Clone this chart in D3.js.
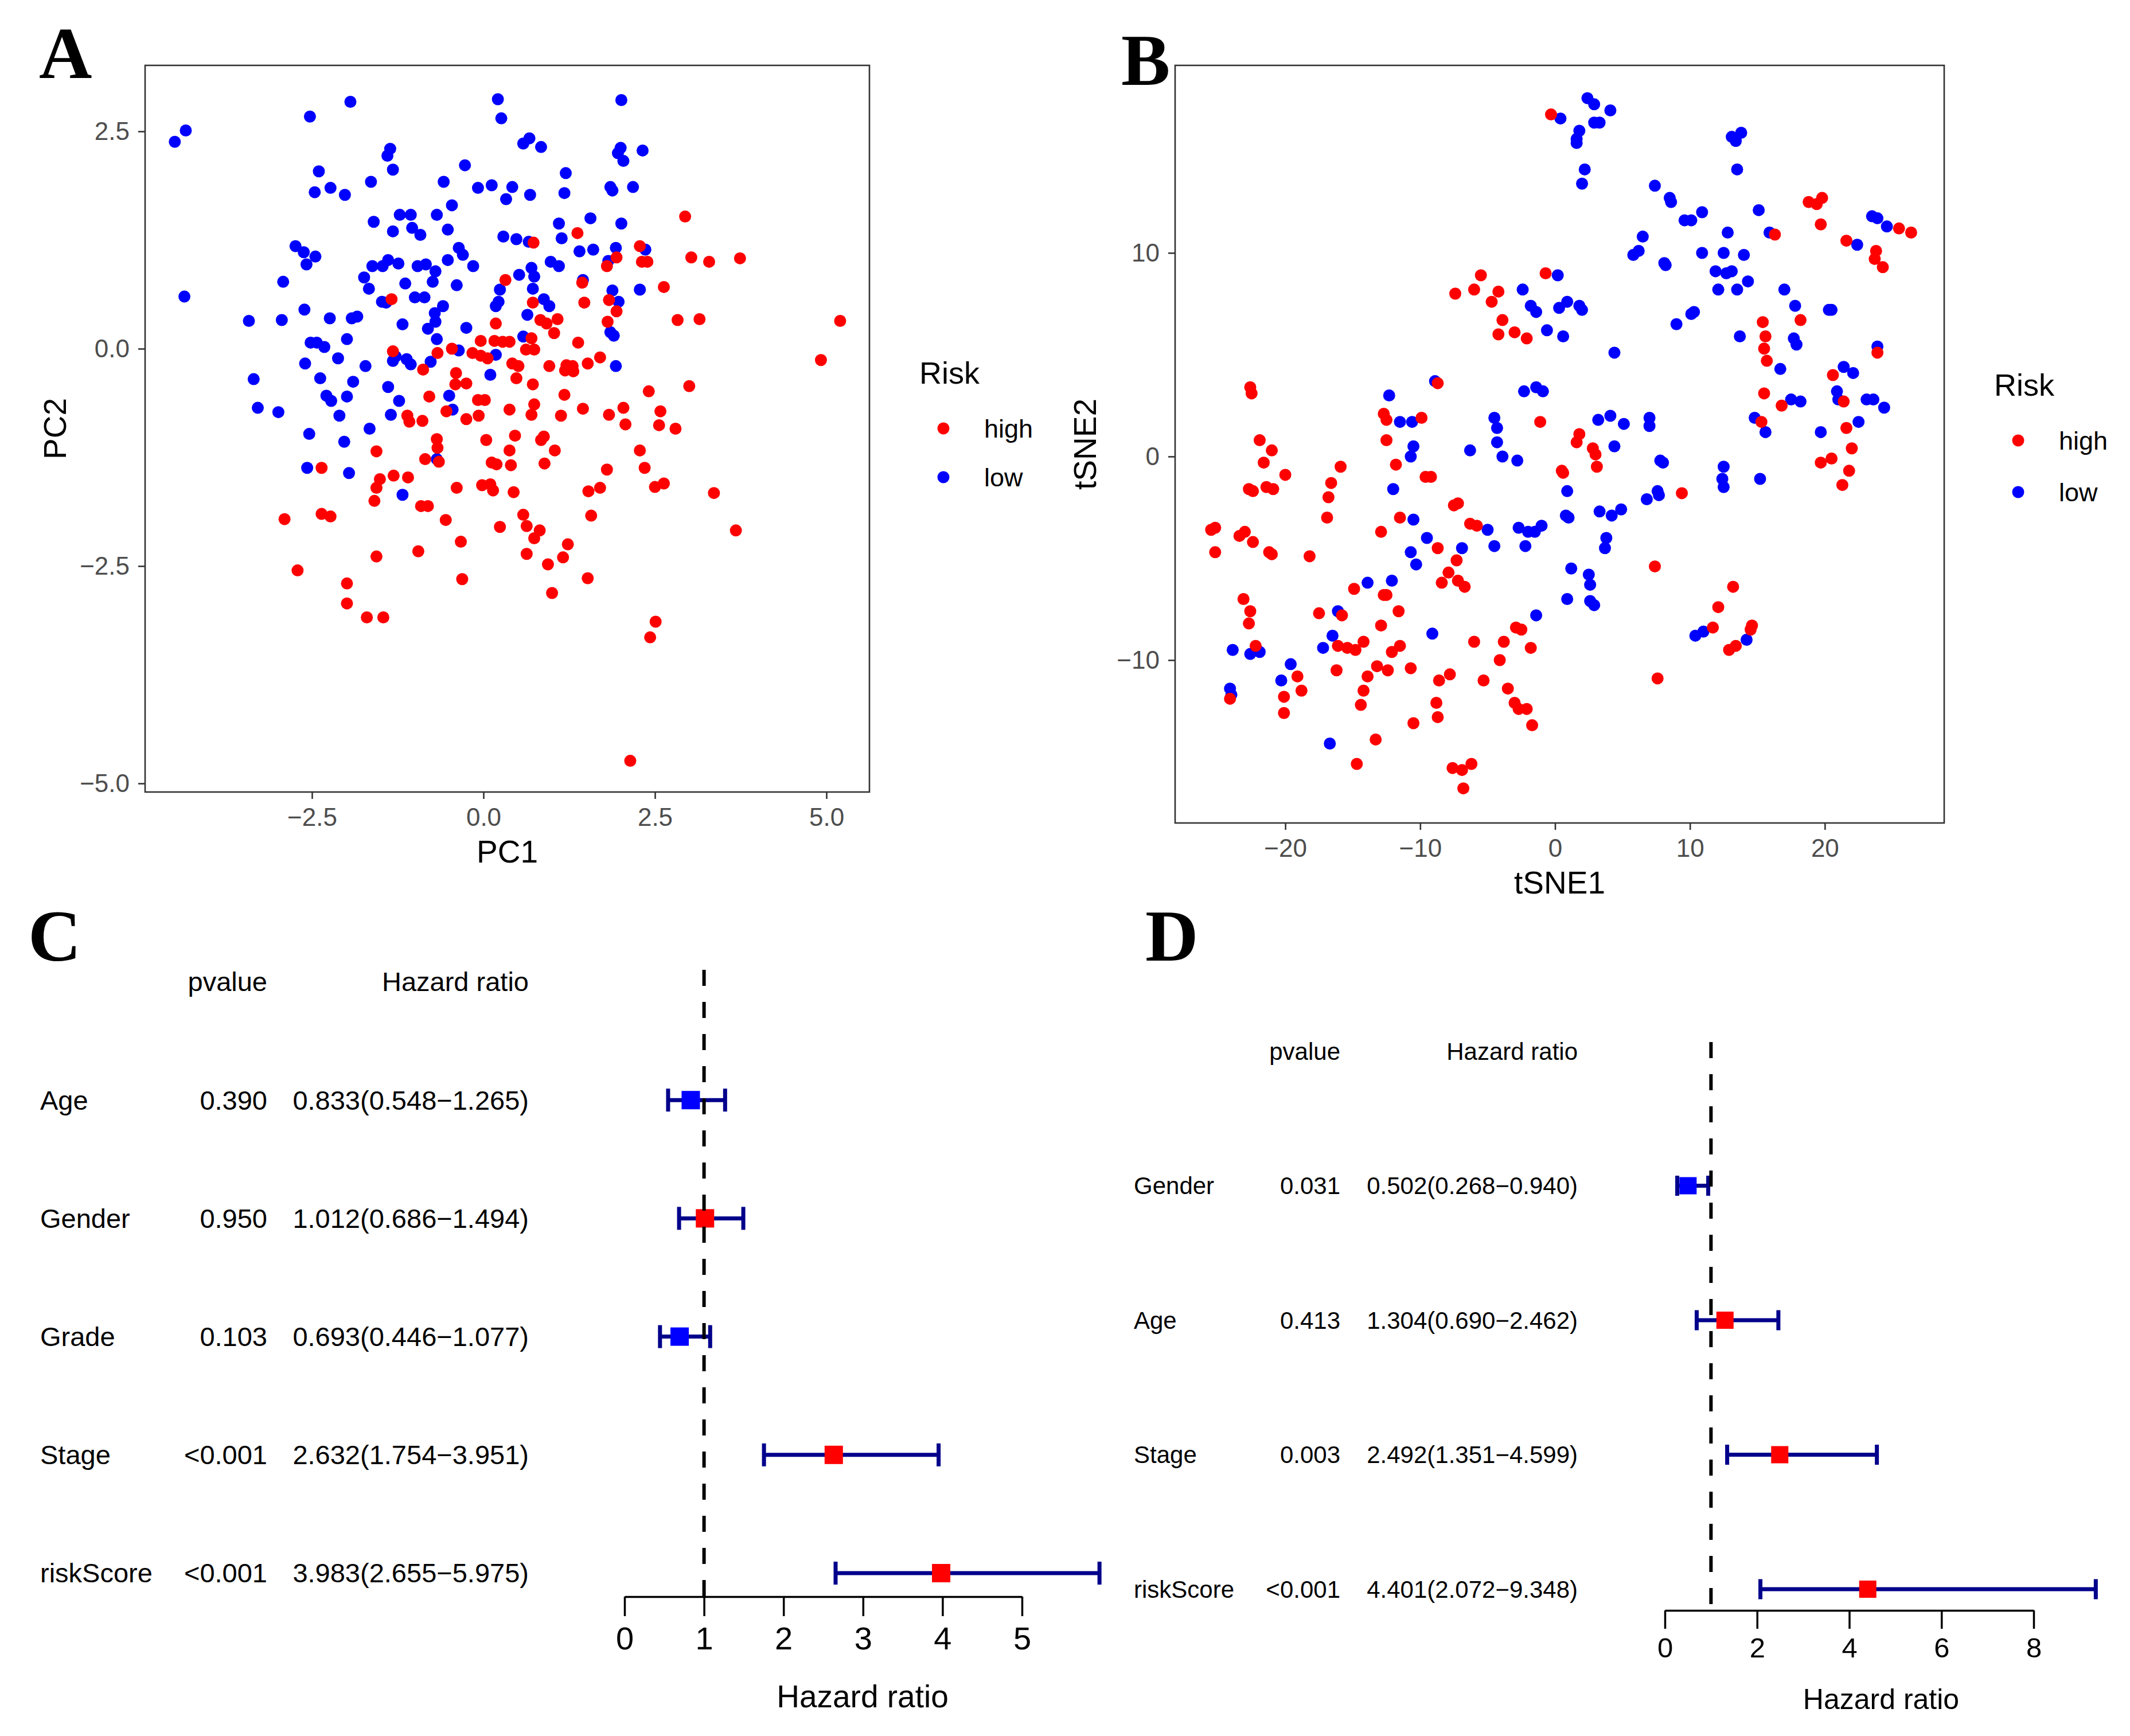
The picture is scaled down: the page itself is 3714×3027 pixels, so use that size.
<!DOCTYPE html>
<html>
<head>
<meta charset="utf-8">
<script src="https://cdn.jsdelivr.net/npm/d3@7"></script>
<style>
  body { margin: 0; background: #fff; }
  text { font-family: "Liberation Sans", Arial, sans-serif; }
</style>
</head>
<body>
<svg id="fig" width="3714" height="3027"></svg>
<script>
// ---- data: PCA (panel A) ----
var pcaLow = [[-4.50,2.38],[-4.34,2.51],[-4.36,0.60],[-2.53,2.67],[-1.94,2.84],[-2.40,2.04],[-2.46,1.80],[-2.23,1.85],[-2.02,1.77],[-1.64,1.92],[-1.36,2.30],[-1.40,2.22],[-1.32,2.06],[-1.60,1.46],[-1.32,1.35],[-1.22,1.54],[-1.06,1.54],[-1.04,1.39],[-0.92,1.31],[-0.68,1.54],[-0.52,1.37],[-0.58,1.92],[-0.46,1.65],[-0.27,2.11],[0.21,2.87],[0.26,2.65],[-0.08,1.85],[0.12,1.88],[0.42,1.86],[0.33,1.72],[0.68,1.77],[0.58,2.36],[0.67,2.42],[0.84,2.32],[1.20,2.02],[1.18,1.79],[2.01,2.86],[2.00,2.31],[1.96,2.25],[2.04,2.16],[2.32,2.28],[1.85,1.86],[1.88,1.82],[2.18,1.86],[1.56,1.50],[2.01,1.44],[1.10,1.44],[1.14,1.27],[0.29,1.29],[0.48,1.26],[0.66,1.23],[-2.74,1.18],[-2.62,1.11],[-2.45,1.06],[-2.58,0.97],[-2.92,0.77],[-2.61,0.45],[-3.42,0.32],[-2.94,0.33],[-2.24,0.35],[-1.92,0.35],[-1.84,0.37],[-1.99,0.11],[-2.52,0.07],[-2.43,0.07],[-2.32,0.02],[-2.12,-0.11],[-2.60,-0.17],[-2.38,-0.34],[-3.35,-0.35],[-3.29,-0.68],[-2.99,-0.73],[-2.29,-0.54],[-2.22,-0.60],[-1.99,-0.55],[-1.90,-0.38],[-1.72,-0.20],[-2.54,-0.98],[-2.10,-0.77],[-2.03,-1.07],[-1.66,-0.92],[-2.57,-1.37],[-1.96,-1.43],[-1.74,0.82],[-1.67,0.69],[-1.62,0.95],[-1.47,0.95],[-1.39,1.02],[-1.24,0.98],[-1.14,0.75],[-1.48,0.54],[-1.42,0.53],[-1.00,0.59],[-0.86,0.59],[-0.96,0.95],[-0.84,0.97],[-0.70,0.89],[-0.74,0.77],[-0.59,0.49],[-0.71,0.41],[-0.70,0.31],[-0.81,0.23],[-1.18,0.28],[-0.68,0.11],[-0.36,1.16],[-0.30,1.08],[-0.52,1.02],[-0.15,0.95],[-0.39,0.73],[-0.25,0.24],[-1.28,-0.09],[-1.12,-0.12],[-1.06,-0.18],[-1.32,-0.14],[-0.77,-0.15],[-1.39,-0.44],[-1.23,-0.60],[-1.35,-0.76],[-0.50,-0.54],[-0.45,-0.70],[-0.36,-0.02],[0.18,-0.07],[0.10,-0.30],[0.64,0.39],[0.58,0.14],[0.24,0.68],[0.22,0.54],[0.18,0.49],[0.70,0.93],[0.74,0.83],[0.72,0.69],[0.52,0.85],[0.98,1.00],[1.10,0.95],[0.88,0.57],[0.96,0.49],[1.40,1.12],[1.60,1.14],[1.82,1.01],[1.93,1.16],[2.36,1.14],[1.45,0.79],[1.88,0.67],[1.97,0.54],[2.28,0.68],[1.85,0.19],[1.90,0.15],[1.93,-0.20],[-1.18,-1.68],[-0.68,-1.27]];

var pcaHigh = [[1.37,1.33],[0.73,1.22],[2.28,1.18],[2.31,1.00],[2.39,1.00],[1.80,0.95],[1.94,1.05],[2.94,1.52],[3.03,1.05],[3.29,1.00],[3.74,1.04],[2.63,0.71],[2.83,0.33],[3.15,0.34],[5.20,0.32],[4.92,-0.13],[-1.34,0.57],[0.32,0.79],[0.72,0.53],[1.44,0.76],[1.47,0.53],[1.83,0.56],[1.94,0.43],[1.81,0.31],[0.83,0.33],[0.92,0.29],[1.08,0.34],[1.03,0.18],[0.18,0.29],[0.16,0.09],[0.28,0.08],[0.38,0.08],[0.70,0.12],[-0.04,0.09],[1.38,0.07],[-0.16,-0.05],[-0.04,-0.08],[0.06,-0.11],[-0.46,0.00],[-0.67,-0.05],[-1.32,-0.03],[-0.88,-0.24],[-0.40,-0.28],[-0.25,-0.40],[-0.41,-0.41],[-0.79,-0.55],[-0.08,-0.59],[0.02,-0.59],[0.42,-0.17],[0.51,-0.20],[0.48,-0.34],[0.72,-0.41],[0.62,-0.01],[0.74,-0.01],[0.96,-0.20],[1.19,-0.25],[1.30,-0.20],[1.21,-0.19],[1.31,-0.26],[1.52,-0.17],[1.70,-0.10],[1.18,-0.53],[0.74,-0.64],[0.70,-0.76],[0.38,-0.70],[-0.54,-0.72],[-0.25,-0.81],[-0.07,-0.77],[-1.11,-0.77],[-1.08,-0.84],[-0.89,-0.83],[-0.68,-1.04],[-0.67,-1.14],[-0.65,-1.30],[-0.85,-1.27],[-1.56,-1.18],[0.04,-1.05],[0.38,-1.17],[0.46,-1.00],[0.84,-1.05],[0.88,-1.01],[1.04,-1.17],[1.13,-0.77],[1.45,-0.69],[1.83,-0.76],[2.04,-0.68],[2.07,-0.87],[2.41,-0.49],[3.00,-0.43],[2.58,-0.72],[2.56,-0.88],[2.80,-0.92],[2.28,-1.17],[2.35,-1.37],[2.50,-1.59],[2.63,-1.55],[1.80,-1.39],[1.70,-1.60],[1.53,-1.64],[1.57,-1.92],[3.36,-1.66],[3.68,-2.09],[0.12,-1.31],[0.19,-1.33],[0.40,-1.34],[0.89,-1.32],[-1.31,-1.46],[-1.51,-1.50],[-1.56,-1.60],[-1.10,-1.48],[-0.39,-1.60],[-0.02,-1.57],[0.10,-1.56],[0.14,-1.63],[0.44,-1.65],[-1.59,-1.75],[-0.91,-1.81],[-0.81,-1.81],[-0.55,-1.97],[-2.36,-1.37],[-2.36,-1.90],[-2.23,-1.93],[-2.90,-1.96],[0.58,-1.91],[0.63,-2.04],[0.82,-2.09],[0.74,-2.18],[0.24,-2.05],[-0.33,-2.22],[-0.95,-2.33],[-1.56,-2.39],[-2.71,-2.55],[-1.99,-2.70],[-1.99,-2.93],[-1.70,-3.09],[-1.46,-3.09],[-0.31,-2.65],[0.63,-2.36],[0.94,-2.48],[1.00,-2.81],[1.16,-2.40],[1.23,-2.25],[1.52,-2.64],[2.51,-3.14],[2.43,-3.32],[2.14,-4.74]];

// ---- data: t-SNE (panel B) ----
var tsneLow = [[0.4,16.6],[2.4,17.6],[2.9,17.3],[4.1,17.0],[2.9,16.4],[3.3,16.4],[1.8,16.0],[1.6,15.6],[1.6,15.4],[2.2,14.1],[2.0,13.4],[13.1,15.7],[13.8,15.9],[13.4,15.5],[13.5,14.1],[7.4,13.3],[8.5,12.7],[8.6,12.5],[10.9,12.0],[15.1,12.1],[9.6,11.6],[10.1,11.6],[12.8,11.0],[15.9,11.0],[6.5,10.8],[6.2,10.1],[5.8,9.9],[8.1,9.5],[8.2,9.4],[10.9,10.0],[12.5,10.0],[14.0,9.9],[11.9,9.1],[12.7,9.0],[13.1,9.1],[14.3,8.6],[12.1,8.2],[13.5,8.2],[17.0,8.2],[17.8,7.4],[10.3,7.1],[10.1,7.0],[9.0,6.5],[13.7,5.9],[17.7,5.8],[17.9,5.5],[20.3,7.2],[20.5,7.2],[23.5,11.8],[23.9,11.7],[24.6,11.3],[22.4,10.4],[16.7,4.3],[23.9,5.4],[21.4,4.4],[22.1,4.1],[20.9,3.2],[21.0,2.8],[17.5,2.8],[18.2,2.7],[23.1,2.8],[23.6,2.8],[24.4,2.4],[22.5,1.7],[14.8,1.9],[15.6,1.2],[19.7,1.2],[12.5,-0.5],[12.4,-1.1],[12.5,-1.5],[15.2,-1.1],[7.0,1.9],[7.0,1.5],[7.8,-0.2],[8.0,-0.3],[7.6,-1.7],[7.7,-1.9],[6.8,-2.1],[-2.4,8.2],[-1.8,7.4],[-1.4,7.1],[0.2,8.9],[0.3,7.3],[0.9,7.6],[1.8,7.4],[2.0,7.2],[-0.6,6.2],[0.6,5.9],[4.4,5.1],[-12.3,3.0],[-11.5,1.7],[-10.6,1.7],[-8.9,3.7],[-10.5,0.5],[-10.7,0.0],[-12.0,-1.6],[-10.5,-3.1],[-9.5,-4.0],[-10.7,-4.7],[-10.3,-5.3],[-4.5,1.9],[-4.3,1.4],[-4.3,0.7],[-3.9,0.0],[-2.8,-0.2],[-6.3,0.3],[-2.3,3.2],[-1.4,3.4],[-0.9,3.2],[3.2,1.8],[4.1,2.0],[5.1,1.6],[4.4,0.5],[0.9,-1.7],[0.8,-2.9],[1.0,-3.0],[3.3,-2.7],[4.2,-2.9],[4.9,-2.6],[-5.0,-3.6],[-4.5,-4.4],[-2.7,-3.5],[-2.0,-3.7],[-1.5,-3.7],[-1.0,-3.4],[-2.2,-4.4],[-6.9,-4.5],[1.2,-5.5],[2.5,-5.8],[2.6,-6.3],[3.8,-4.0],[3.7,-4.5],[0.9,-7.0],[2.6,-7.1],[2.9,-7.3],[-1.4,-7.8],[-9.1,-8.7],[-13.9,-6.2],[-12.1,-6.1],[-16.1,-7.6],[-16.5,-8.8],[-17.2,-9.4],[-19.6,-10.2],[-20.3,-11.0],[-23.9,-9.5],[-22.6,-9.7],[-21.9,-9.6],[-24.1,-11.4],[-24.0,-11.7],[-16.7,-14.1],[10.4,-8.8],[11.0,-8.6],[14.2,-9.0]];

var tsneHigh = [[-0.3,16.8],[-5.5,8.9],[-6.0,8.2],[-4.2,8.1],[-7.4,8.0],[-4.7,7.6],[-3.9,6.7],[-4.2,6.0],[-3.0,6.1],[-2.1,5.8],[-0.7,9.0],[18.8,12.5],[19.4,12.4],[19.8,12.7],[19.7,11.4],[21.6,10.6],[23.8,10.1],[23.7,9.7],[24.3,9.3],[25.5,11.2],[26.4,11.0],[16.3,10.9],[15.4,6.6],[18.2,6.7],[15.6,5.9],[15.5,5.3],[15.7,4.7],[20.6,4.0],[23.9,5.1],[15.5,3.1],[16.8,2.5],[21.4,2.7],[21.6,1.4],[22.0,0.4],[19.7,-0.3],[20.5,-0.1],[21.8,-0.7],[21.3,-1.4],[15.3,1.7],[9.4,-1.8],[7.4,-5.4],[7.6,-10.9],[11.7,-8.4],[12.1,-7.4],[13.2,-6.4],[14.5,-8.5],[14.6,-8.3],[12.9,-9.5],[13.4,-9.3],[-22.6,3.4],[-22.5,3.1],[-21.9,0.8],[-21.0,0.3],[-21.6,-0.3],[-20.0,-0.9],[-22.7,-1.6],[-22.4,-1.7],[-21.4,-1.5],[-20.9,-1.6],[-15.9,-0.5],[-16.6,-1.3],[-16.8,-2.0],[-16.9,-3.0],[-25.5,-3.6],[-25.2,-3.5],[-25.2,-4.7],[-23.4,-3.9],[-23.0,-3.7],[-22.4,-4.2],[-21.2,-4.7],[-21.0,-4.8],[-18.2,-4.9],[-23.1,-7.0],[-22.6,-7.6],[-22.7,-8.2],[-22.2,-9.3],[-19.1,-10.8],[-18.8,-11.5],[-20.1,-11.8],[-20.1,-12.6],[-24.1,-11.9],[-17.5,-7.7],[-15.8,-7.8],[-14.9,-6.5],[-16.1,-9.3],[-15.4,-9.4],[-14.8,-9.5],[-14.2,-9.1],[-16.2,-10.5],[-13.9,-10.8],[-14.2,-11.5],[-14.4,-12.2],[-13.3,-13.9],[-14.7,-15.1],[-12.7,-6.8],[-12.5,-6.8],[-12.9,-8.3],[-12.1,-9.6],[-11.5,-9.3],[-12.4,-10.5],[-13.2,-10.3],[-10.7,-10.4],[-10.5,-13.1],[-11.6,-7.6],[-11.5,-3.0],[-12.9,-3.7],[-12.7,2.1],[-12.5,1.8],[-12.5,0.8],[-11.8,-0.4],[-9.9,1.9],[-8.7,3.6],[-9.6,-1.0],[-9.2,-1.0],[-7.5,-2.4],[-7.2,-2.3],[-8.7,-4.5],[-7.3,-5.1],[-7.9,-5.7],[-8.4,-6.2],[-7.2,-6.1],[-6.7,-6.4],[-8.6,-11.0],[-7.8,-10.7],[-8.8,-12.1],[-8.7,-12.8],[-7.6,-15.3],[-6.9,-15.4],[-6.2,-15.1],[-6.8,-16.3],[-6.0,-9.1],[-5.3,-11.0],[-4.1,-10.0],[-3.8,-9.1],[-3.5,-11.4],[-3.0,-12.1],[-2.7,-12.4],[-2.1,-12.4],[-1.7,-13.2],[-1.8,-9.4],[-2.9,-8.4],[-2.5,-8.5],[-6.3,-3.3],[-5.8,-3.4],[-1.1,1.7],[0.5,-0.7],[0.6,-0.8],[1.6,0.7],[1.8,1.1],[2.8,0.4],[3.0,0.1],[3.1,-0.5]];

// ---- data: univariate Cox (panel C) ----
var coxUniNames = ["Age", "Gender", "Grade", "Stage", "riskScore"];
var coxUniP = ["0.390", "0.950", "0.103", "<0.001", "<0.001"];
var coxUniHR = [0.833, 1.012, 0.693, 2.632, 3.983];
var coxUniLow = [0.548, 0.686, 0.446, 1.754, 2.655];
var coxUniHigh = [1.265, 1.494, 1.077, 3.951, 5.975];

// ---- data: multivariate Cox (panel D) ----
var coxMultiNames = ["Gender", "Age", "Stage", "riskScore"];
var coxMultiP = ["0.031", "0.413", "0.003", "<0.001"];
var coxMultiHR = [0.502, 1.304, 2.492, 4.401];
var coxMultiLow = [0.268, 0.690, 1.351, 2.072];
var coxMultiHigh = [0.940, 2.462, 4.599, 9.348];

var riskColors = { high: "#FF0000", low: "#0000FF" };

var svg = d3.select("#fig");
svg.append("rect").attr("width", 3714).attr("height", 3027).attr("fill", "#fff");

function panelLabel(txt, x, y) {
    svg.append("text")
        .attr("x", x).attr("y", y)
        .style("font-family", "'Liberation Serif', 'Times New Roman', serif")
        .style("font-weight", "bold")
        .style("font-size", "128px")
        .text(txt);
}

function scatter(cfg) {
    var g = svg.append("g");
    var x = d3.scaleLinear().domain(cfg.xDomain).range([cfg.left, cfg.right]);
    var y = d3.scaleLinear().domain(cfg.yDomain).range([cfg.bottom, cfg.top]);

    // low first, high on top
    [["low", cfg.low], ["high", cfg.high]].forEach(function (s) {
        g.append("g").selectAll("circle")
            .data(s[1])
            .enter().append("circle")
            .attr("cx", d => x(d[0]))
            .attr("cy", d => y(d[1]))
            .attr("r", 10.5)
            .attr("fill", riskColors[s[0]]);
    });

    g.append("rect")
        .attr("x", cfg.left).attr("y", cfg.top)
        .attr("width", cfg.right - cfg.left).attr("height", cfg.bottom - cfg.top)
        .attr("fill", "none").attr("stroke", "#333").attr("stroke-width", 2.6);

    var xAxis = d3.axisBottom(x).tickValues(cfg.xTicks).tickFormat(cfg.fmt)
        .tickSize(12).tickPadding(16).tickSizeOuter(0);
    var yAxis = d3.axisLeft(y).tickValues(cfg.yTicks).tickFormat(cfg.fmt)
        .tickSize(12).tickPadding(15).tickSizeOuter(0);

    [g.append("g").attr("transform", `translate(0,${cfg.bottom})`).call(xAxis),
     g.append("g").attr("transform", `translate(${cfg.left},0)`).call(yAxis)].forEach(function (a) {
        a.select(".domain").remove();
        a.selectAll("line").attr("stroke", "#333").attr("stroke-width", 2.6);
        a.selectAll("text").attr("fill", "#4D4D4D")
            .style("font-size", "44px").style("font-family", "'Liberation Sans', Arial, sans-serif");
    });

    // axis titles
    g.append("text")
        .attr("x", (cfg.left + cfg.right) / 2).attr("y", cfg.bottom + 123)
        .attr("text-anchor", "middle").style("font-size", "55px")
        .text(cfg.xTitle);
    g.append("text")
        .attr("transform", `translate(${cfg.left - 138},${(cfg.top + cfg.bottom) / 2}) rotate(-90)`)
        .attr("text-anchor", "middle").style("font-size", "55px")
        .text(cfg.yTitle);

    // legend
    var lg = g.append("g").attr("transform", `translate(${cfg.right + 87},${cfg.legendY})`);
    lg.append("text").attr("x", 0).attr("y", 0).style("font-size", "54px").text("Risk");
    ["high", "low"].forEach(function (k, i) {
        lg.append("circle").attr("cx", 42).attr("cy", 78 + i * cfg.legendStep)
            .attr("r", 10.5).attr("fill", riskColors[k]);
        lg.append("text").attr("x", 113).attr("y", 78 + i * cfg.legendStep + 16)
            .style("font-size", "45px").text(k);
    });
}

function forest(cfg) {
    var g = svg.append("g");
    var y = d3.scalePoint().domain(["header"].concat(cfg.names)).range(cfg.yRange);
    var x = d3.scaleLinear().domain([0, cfg.xMax]).range(cfg.xRange);
    var fs = cfg.fontSize + "px";

    g.append("text").attr("x", cfg.pX).attr("y", y("header")).attr("dy", "0.35em")
        .attr("text-anchor", "end").style("font-size", fs).text("pvalue");
    g.append("text").attr("x", cfg.hrX).attr("y", y("header")).attr("dy", "0.35em")
        .attr("text-anchor", "end").style("font-size", fs).text("Hazard ratio");

    var rows = cfg.names.map(function (n, i) {
        return { name: n, p: cfg.p[i], hr: cfg.hr[i], lo: cfg.lo[i], hi: cfg.hi[i] };
    });

    var row = g.selectAll(".row").data(rows).enter().append("g").attr("class", "row");
    row.append("text").attr("x", cfg.nameX).attr("y", d => y(d.name)).attr("dy", "0.35em")
        .style("font-size", fs).text(d => d.name);
    row.append("text").attr("x", cfg.pX).attr("y", d => y(d.name)).attr("dy", "0.35em")
        .attr("text-anchor", "end").style("font-size", fs).text(d => d.p);
    row.append("text").attr("x", cfg.hrX).attr("y", d => y(d.name)).attr("dy", "0.35em")
        .attr("text-anchor", "end").style("font-size", fs)
        .text(d => d.hr.toFixed(3) + "(" + d.lo.toFixed(3) + "\u2212" + d.hi.toFixed(3) + ")");

    // reference line at HR = 1
    g.append("line")
        .attr("x1", x(1)).attr("x2", x(1))
        .attr("y1", cfg.dashTop).attr("y2", cfg.axisY)
        .attr("stroke", "#000").attr("stroke-width", 6)
        .attr("stroke-dasharray", "28,28");

    row.append("line")
        .attr("x1", d => x(d.lo)).attr("x2", d => x(d.hi))
        .attr("y1", d => y(d.name)).attr("y2", d => y(d.name))
        .attr("stroke", "#00008B").attr("stroke-width", 7);
    ["lo", "hi"].forEach(function (k) {
        row.append("line")
            .attr("x1", d => x(d[k])).attr("x2", d => x(d[k]))
            .attr("y1", d => y(d.name) - cfg.cap / 2).attr("y2", d => y(d.name) + cfg.cap / 2)
            .attr("stroke", "#00008B").attr("stroke-width", 7);
    });
    row.append("rect")
        .attr("x", d => x(d.hr) - cfg.sq / 2).attr("y", d => y(d.name) - cfg.sq / 2)
        .attr("width", cfg.sq).attr("height", cfg.sq)
        .attr("fill", d => d.hr > 1 ? "#FF0000" : "#0000FF");

    var axis = d3.axisBottom(x).tickValues(cfg.ticks).tickFormat(d3.format("d"))
        .tickSize(cfg.tickLen).tickPadding(cfg.tickPad).tickSizeOuter(0);
    var ag = g.append("g").attr("transform", `translate(0,${cfg.axisY})`).call(axis);
    ag.select(".domain").attr("stroke", "#000").attr("stroke-width", 3.5);
    ag.selectAll("line").attr("stroke", "#000").attr("stroke-width", 3.5);
    ag.selectAll("text").attr("fill", "#000")
        .style("font-size", cfg.tickFont + "px").style("font-family", "'Liberation Sans', Arial, sans-serif");

    g.append("text").attr("x", cfg.titleX).attr("y", cfg.titleY)
        .attr("text-anchor", "middle").style("font-size", cfg.titleFont + "px")
        .text("Hazard ratio");
}

// ---- panel A ----
panelLabel("A", 68, 136);
scatter({
    low: pcaLow, high: pcaHigh,
    left: 253, right: 1516, top: 114, bottom: 1381,
    xDomain: [-4.933, 5.627], yDomain: [-5.099, 3.259],
    xTicks: [-2.5, 0, 2.5, 5], yTicks: [-5, -2.5, 0, 2.5],
    fmt: d3.format(".1f"),
    xTitle: "PC1", yTitle: "PC2",
    legendY: 669, legendStep: 85
});

// ---- panel B ----
panelLabel("B", 1955, 148);
scatter({
    low: tsneLow, high: tsneHigh,
    left: 2049, right: 3390, top: 114, bottom: 1435,
    xDomain: [-28.17, 28.85], yDomain: [-18.0, 19.21],
    xTicks: [-20, -10, 0, 10, 20], yTicks: [-10, 0, 10],
    fmt: d3.format("d"),
    xTitle: "tSNE1", yTitle: "tSNE2",
    legendY: 690, legendStep: 90
});

// ---- panel C ----
panelLabel("C", 49, 1675);
forest({
    names: coxUniNames, p: coxUniP, hr: coxUniHR, lo: coxUniLow, hi: coxUniHigh,
    yRange: [1712, 2743], xRange: [1089, 1782], xMax: 5, ticks: [0, 1, 2, 3, 4, 5],
    nameX: 70, pX: 466, hrX: 922, fontSize: 47,
    dashTop: 1691, axisY: 2784, tickLen: 34, tickPad: 18, tickFont: 56,
    titleX: 1504, titleY: 2977, titleFont: 55, cap: 40, sq: 32
});

// ---- panel D ----
panelLabel("D", 1997, 1675);
forest({
    names: coxMultiNames, p: coxMultiP, hr: coxMultiHR, lo: coxMultiLow, hi: coxMultiHigh,
    yRange: [1833, 2771], xRange: [2903, 3546], xMax: 8, ticks: [0, 2, 4, 6, 8],
    nameX: 1977, pX: 2337, hrX: 2751, fontSize: 42,
    dashTop: 1817, axisY: 2808, tickLen: 32, tickPad: 15, tickFont: 49,
    titleX: 3280, titleY: 2980, titleFont: 50, cap: 35, sq: 30
});
</script>
</body>
</html>
